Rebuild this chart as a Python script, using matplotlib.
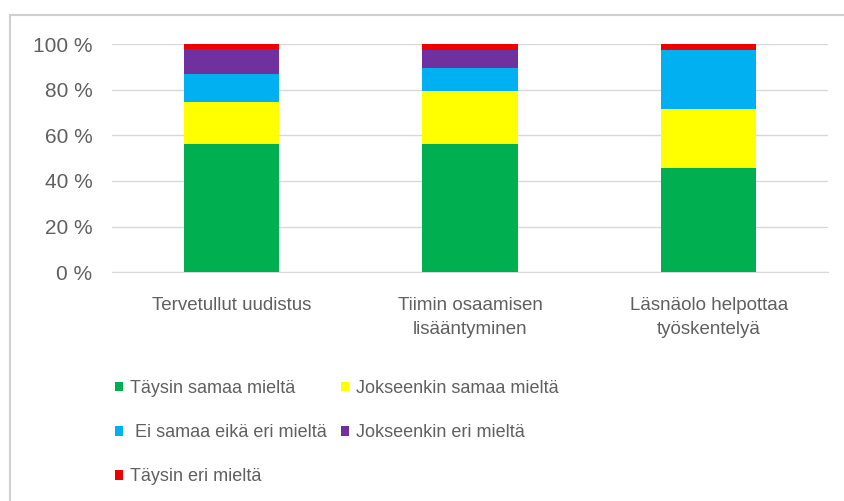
import numpy as np
import matplotlib.pyplot as plt
from matplotlib.lines import Line2D

categories = ['Tervetullut uudistus', 'Tiimin osaamisen\nlisääntyminen', 'Läsnäolo helpottaa\ntyöskentelyä']
series = ['Täysin samaa mieltä', 'Jokseenkin samaa mieltä', ' Ei samaa eikä eri mieltä',
          'Jokseenkin eri mieltä', 'Täysin eri mieltä']
colors = ['#00B050', '#FFFF00', '#00B0F0', '#7030A0', '#EE0000']

# osuudet prosentteina, sarakkeet = kategoriat
taysin_samaa = [56.1, 56.2, 45.5]
jokseenkin_samaa = [18.4, 23.3, 26.0]
ei_samaa_eika_eri = [12.4, 9.9, 25.9]
jokseenkin_eri = [10.8, 8.0, 0.0]
taysin_eri = [2.3, 2.6, 2.6]
values = [taysin_samaa, jokseenkin_samaa, ei_samaa_eika_eri, jokseenkin_eri, taysin_eri]
yticks = [0, 20, 40, 60, 80, 100]

plt.rcParams['font.family'] = ['Liberation Sans', 'DejaVu Sans']
text_color = '#606060'

fig = plt.figure(figsize=(8.44, 5.01), dpi=100)
ax = fig.add_axes([112 / 844, 1 - 272.3 / 501, (828 - 112) / 844, (272.3 - 44) / 501])

x = np.arange(len(categories))
bottom = np.zeros(len(categories))
bars = []
for vals, col, name in zip(values, colors, series):
    b = ax.bar(x, vals, width=0.4, bottom=bottom, color=col, label=name, zorder=3)
    bars.append(b)
    bottom += np.array(vals)

ax.set_xlim(-0.5, len(categories) - 0.5)
ax.set_ylim(0, 100)
ax.set_yticks(yticks)
ax.set_yticklabels([f'{t} %' for t in yticks])
ax.set_xticks(x)
ax.set_xticklabels(categories, linespacing=1.55)
ax.grid(axis='y', color='#D9D9D9', linewidth=1, zorder=0)
for s in ['top', 'right', 'left']:
    ax.spines[s].set_visible(False)
ax.spines['bottom'].set_color('#D9D9D9')
ax.tick_params(axis='y', length=0, pad=14, labelsize=15, labelcolor=text_color)
ax.tick_params(axis='x', length=0, pad=18, labelsize=13.5, labelcolor=text_color)

# selite riveittäin: kaksi saraketta
order = [0, 2, 4, 1, 3]
fig.legend([bars[i] for i in order], [series[i] for i in order], ncol=2,
           loc='upper left', bbox_to_anchor=(115 / 844, 1 - 380 / 501),
           frameon=False, fontsize=13, labelcolor=text_color,
           handlelength=0.45, handleheight=0.45, handletextpad=0.4,
           columnspacing=0.75, labelspacing=1.5, borderpad=0, borderaxespad=0)

# kehys vasemmalla ja ylhäällä
fig.add_artist(Line2D([10 / 844, 1], [1 - 15 / 501, 1 - 15 / 501], color='#D0D0D0', lw=1.5))
fig.add_artist(Line2D([10 / 844, 10 / 844], [0, 1 - 15 / 501], color='#D0D0D0', lw=1.5))

fig.savefig('out.png', dpi=100)
